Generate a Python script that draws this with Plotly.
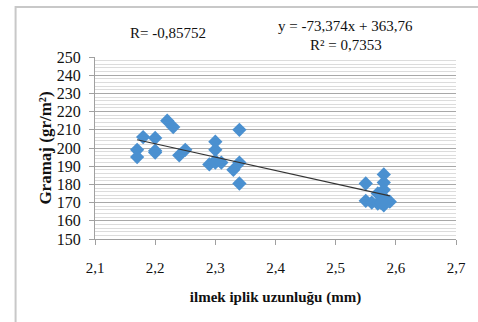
import plotly.graph_objects as go

# Data
loop_length = [2.17, 2.17, 2.18, 2.20, 2.20, 2.20, 2.22, 2.23, 2.24, 2.25,
               2.29, 2.30, 2.30, 2.30, 2.30, 2.31, 2.33, 2.34, 2.34, 2.34,
               2.55, 2.55, 2.56, 2.57, 2.57, 2.58, 2.58, 2.58, 2.58, 2.58,
               2.59, 2.575]
gramaj = [199, 195, 206, 205.5, 198.5, 197.5, 215, 211.5, 196, 199,
          191, 203.5, 199, 193, 192, 192, 188, 210, 192, 180.5,
          180.5, 171, 170, 169.5, 175, 185.5, 181, 177, 168.5, 173,
          170.5, 170]

slope = -73.374
intercept = 363.76
trend_x = [2.17, 2.59]
trend_y = [slope * v + intercept for v in trend_x]

x_ticks = [2.1, 2.2, 2.3, 2.4, 2.5, 2.6, 2.7]
x_tick_labels = ["2,1", "2,2", "2,3", "2,4", "2,5", "2,6", "2,7"]
y_ticks = list(range(150, 251, 10))

serif = "Liberation Serif, Times New Roman, serif"

fig = go.Figure()
fig.add_trace(go.Scatter(
    x=loop_length, y=gramaj, mode="markers",
    marker=dict(symbol="diamond", size=11, color="#4a90d0"),
    showlegend=False, hoverinfo="x+y"))
fig.add_trace(go.Scatter(
    x=trend_x, y=trend_y, mode="lines",
    line=dict(color="#333333", width=1.2), showlegend=False))

fig.update_layout(
    width=478, height=322,
    margin=dict(l=95, r=19, t=57, b=83),
    paper_bgcolor="white", plot_bgcolor="white",
    font=dict(family=serif, size=14, color="#111111"),
    xaxis=dict(
        range=[2.1, 2.7], tickvals=x_ticks, ticktext=x_tick_labels,
        showgrid=False, zeroline=False,
        showline=True, linecolor="#a0a0a0", linewidth=1,
        ticks="outside", ticklen=5, tickcolor="#a0a0a0",
        ticklabelstandoff=10,
        tickfont=dict(family=serif, size=15),
        title=dict(text="<b>ilmek iplik uzunluğu (mm)</b>",
                   font=dict(family=serif, size=15), standoff=16),
    ),
    yaxis=dict(
        range=[150, 250], tickvals=y_ticks,
        showgrid=True, gridcolor="#a8a8a8", gridwidth=1,
        minor=dict(dtick=2, showgrid=True, gridcolor="#dcdcdc", gridwidth=1),
        zeroline=False,
        showline=True, linecolor="#a0a0a0", linewidth=1,
        ticks="outside", ticklen=5, tickcolor="#a0a0a0",
        ticklabelstandoff=5,
        tickfont=dict(family=serif, size=16),
        title=dict(text="<b>Gramaj (gr/m²)</b>",
                   font=dict(family=serif, size=17), standoff=0),
    ),
    shapes=[dict(type="rect", xref="paper", yref="paper",
                 x0=-0.22, x1=1.3, y0=-0.7, y1=1.275,
                 line=dict(color="#c8c8c8", width=2), layer="below")],
    annotations=[
        dict(text="R= -0,85752", xref="paper", yref="paper",
             x=0.203, y=1.132, xanchor="center", yanchor="middle",
             showarrow=False, font=dict(family=serif, size=15)),
        dict(text="y = -73,374x + 363,76", xref="paper", yref="paper",
             x=0.695, y=1.17, xanchor="center", yanchor="middle",
             showarrow=False, font=dict(family=serif, size=15)),
        dict(text="R² = 0,7353", xref="paper", yref="paper",
             x=0.695, y=1.066, xanchor="center", yanchor="middle",
             showarrow=False, font=dict(family=serif, size=15)),
    ],
)

fig.write_html("out.html", config={"displayModeBar": False})

# remove the browser's default page margin so the figure sits at (0, 0)
with open("out.html", "r", encoding="utf-8") as f:
    html = f.read()
html = html.replace("<body>", '<body style="margin:0;padding:0;">', 1)
with open("out.html", "w", encoding="utf-8") as f:
    f.write(html)
